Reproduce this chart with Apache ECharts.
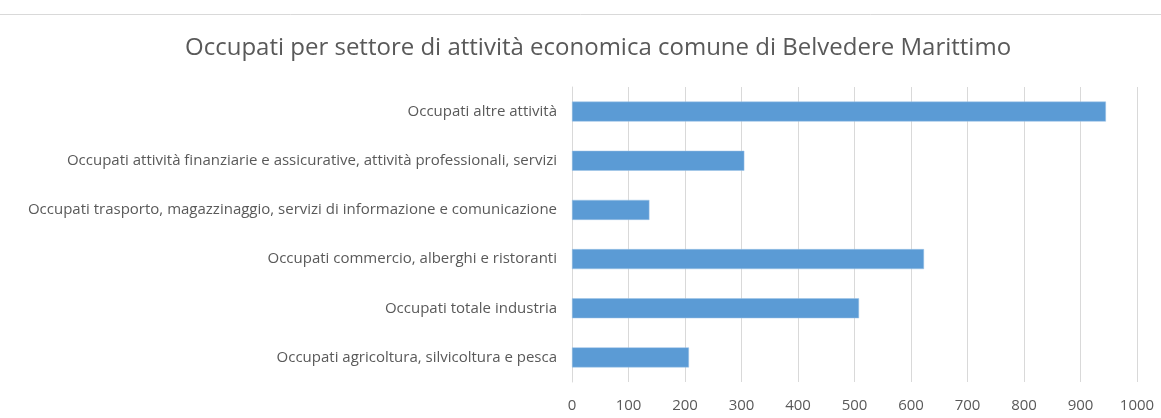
<!DOCTYPE html>
<html>
<head>
<meta charset="utf-8">
<script src="https://cdn.jsdelivr.net/npm/echarts@6/dist/echarts.min.js"></script>
<style>
html,body{margin:0;padding:0;background:#fff;}
#chart{width:1161px;height:418px;}
</style>
</head>
<body>
<div id="chart"></div>
<script>
const titleText = "Occupati per settore di attività economica comune di Belvedere Marittimo";
const categories = [
  "Occupati agricoltura, silvicoltura e pesca",
  "Occupati totale industria",
  "Occupati commercio, alberghi e ristoranti",
  "Occupati trasporto, magazzinaggio, servizi di informazione e comunicazione",
  "Occupati attività finanziarie e assicurative, attività professionali, servizi",
  "Occupati altre attività"
];
const values = [207, 508, 623, 137, 305, 945];
const xMin = 0, xMax = 1000, xStep = 100;

const chart = echarts.init(document.getElementById('chart'), null, {renderer:'canvas'});
chart.setOption({
  animation: false,
  backgroundColor: '#ffffff',
  title: {
    text: titleText,
    left: 180,
    top: 31,
    textStyle: {fontFamily: 'Open Sans', fontSize: 24, fontWeight: 'normal', color: '#595959'}
  },
  graphic: [{
    type: 'line',
    shape: {x1: 0, y1: 14.5, x2: 1161, y2: 14.5},
    style: {stroke: '#d9d9d9', lineWidth: 1}
  }],
  grid: {left: 572, right: 24, top: 87, bottom: 36, containLabel: false},
  xAxis: {
    type: 'value',
    min: xMin, max: xMax, interval: xStep,
    axisLine: {show: false},
    axisTick: {show: false},
    splitLine: {show: true, lineStyle: {color: '#d9d9d9', width: 1}},
    axisLabel: {fontFamily: 'Open Sans', fontSize: 15, color: '#595959', margin: 16,
      formatter: function (v) { return String(v); }}
  },
  yAxis: {
    type: 'category',
    data: categories,
    axisLine: {show: true, lineStyle: {color: '#d9d9d9', width: 1}},
    axisTick: {show: false},
    axisLabel: {fontFamily: 'Open Sans', fontSize: 15, color: '#595959', margin: 15}
  },
  series: [{
    type: 'bar',
    data: values,
    barWidth: 20,
    itemStyle: {color: '#5b9bd5', borderColor: '#9dc3e6', borderWidth: 0.5}
  }]
});
</script>
</body>
</html>
